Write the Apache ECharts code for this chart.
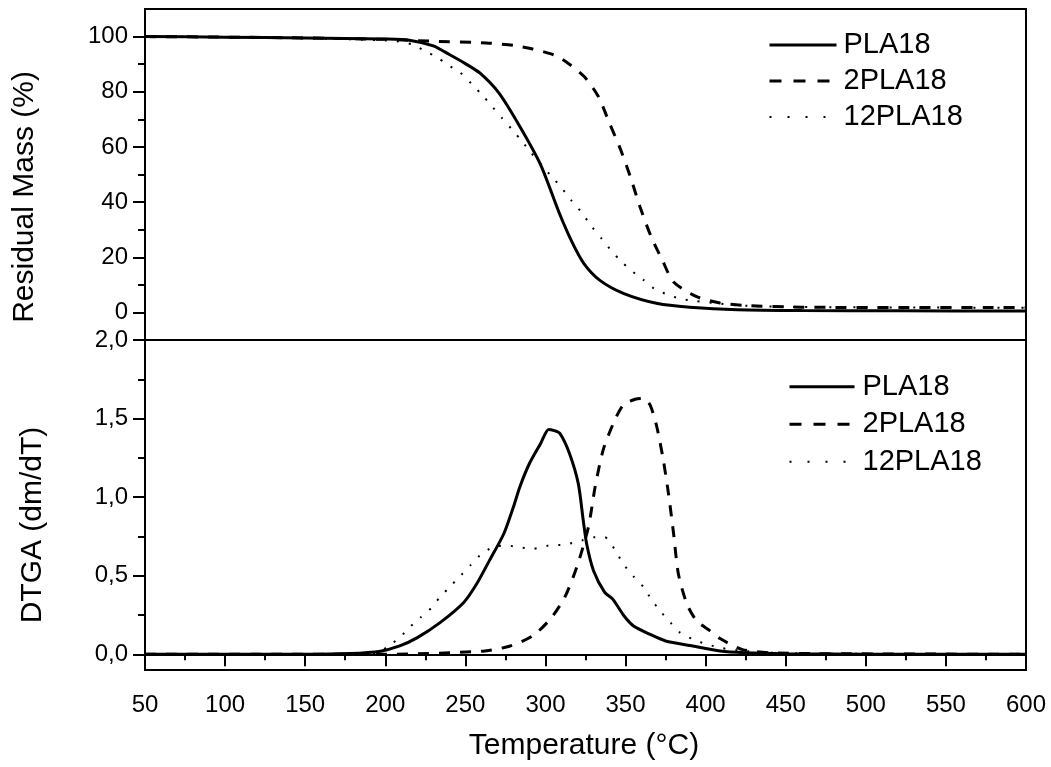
<!DOCTYPE html>
<html>
<head>
<meta charset="utf-8">
<script src="https://cdn.jsdelivr.net/npm/echarts@6/dist/echarts.min.js"></script>
<style>
html,body{margin:0;padding:0;background:#fff;}
#chart{width:1051px;height:767px;}
</style>
</head>
<body>
<div id="chart"></div>
<script>
// ---------- DATA ----------
var seriesNames = ['PLA18', '2PLA18', '12PLA18'];
var xTicks = [50, 100, 150, 200, 250, 300, 350, 400, 450, 500, 550, 600];
var tgaTicks = [0, 20, 40, 60, 80, 100];
var tgaMinorTicks = [10, 30, 50, 70, 90];
var dtgTicks = [0, 0.5, 1.0, 1.5, 2.0];
var dtgMinorTicks = [0.25, 0.75, 1.25, 1.75];

// Residual mass (%) vs temperature (°C)
var tgaPLA18 = [[50,100],[100,99.8],[150,99.5],[200,99.1],[215,98.7],[230,96.6],[240,93.5],[250,90.2],[259,86.8],[271,79.5],[284,67.4],[297,53.5],[309,35.5],[317,25],[324,17.7],[334,11.6],[349,6.8],[370,3.2],[390,1.9],[420,1.0],[460,0.7],[520,0.6],[600,0.5]];
var tga2PLA18 = [[50,100],[100,99.8],[150,99.5],[200,99],[230,98.3],[263,97.7],[280,96.8],[292,95.5],[303,93.8],[311,91.6],[324,85.6],[333,78.3],[340,68.6],[347,58.9],[353,49.2],[359,38.3],[366,27.4],[373,18.9],[380,11],[394,5.8],[409,3.4],[426,2.5],[460,1.9],[520,1.8],[600,1.8]];
var tga12PLA18 = [[50,100],[100,99.8],[150,99.4],[180,99],[200,98.6],[207,98.3],[217,97.1],[225,94.7],[232,92.6],[239,89.8],[247,86.8],[254,82.8],[261,78.5],[267,74.4],[273,70.4],[279,66.4],[285,62.3],[291,57.9],[297,53.8],[303,49.8],[310,45.2],[316,40.7],[323,35.9],[329,31],[335,26.8],[341,22.5],[347,18.7],[354,15],[361,11.9],[368,8.6],[376,6.5],[384,5],[394,4.1],[405,3.4],[422,2.5],[450,2.0],[520,1.8],[600,1.7]];

// DTGA (dm/dT) vs temperature (°C)
var dtgPLA18 = [[50,0],[100,0],[150,0],[178,0.005],[197,0.02],[209,0.053],[220,0.106],[234,0.2],[249,0.33],[257,0.447],[265,0.596],[274,0.767],[280,0.937],[284,1.065],[290,1.214],[297,1.342],[302,1.431],[305,1.425],[309,1.406],[315,1.278],[320.5,1.086],[323.6,0.852],[325.7,0.703],[330,0.532],[337,0.394],[342,0.351],[349,0.245],[355,0.18],[365,0.128],[375,0.085],[392,0.053],[409,0.021],[425,0.01],[450,0.004],[500,0],[600,0]];
var dtg2PLA18 = [[50,0],[150,0],[200,0],[261,0.02],[278,0.053],[292,0.117],[303,0.224],[312,0.362],[319.5,0.553],[326.8,0.809],[331,1.065],[336,1.299],[342.4,1.47],[348.6,1.587],[356,1.623],[361,1.629],[365.3,1.587],[369.5,1.448],[373.6,1.235],[376.8,1.022],[380,0.767],[383,0.511],[388.3,0.32],[394.4,0.213],[402.8,0.149],[409,0.1],[423,0.03],[440,0.01],[470,0.004],[600,0]];
var dtg12PLA18 = [[50,0],[150,0],[195,0.01],[202,0.053],[209,0.106],[215,0.17],[222,0.234],[229,0.298],[234,0.362],[240,0.426],[247,0.5],[253,0.564],[259,0.628],[267,0.681],[276,0.692],[284,0.681],[292,0.671],[302,0.692],[312,0.698],[322.6,0.724],[330,0.745],[337,0.745],[343,0.671],[348.6,0.575],[355,0.495],[361,0.43],[366,0.351],[371.5,0.277],[378,0.202],[384,0.138],[392,0.096],[400.6,0.064],[410,0.04],[420,0.025],[440,0.01],[470,0.004],[600,0]];

// ---------- CHART ----------
var FONT = '"Liberation Sans", Arial, Helvetica, sans-serif';
var styles = [
  {type: 'solid', width: 3},
  {type: [11, 10], width: 3},
  {type: [2, 10], width: 2}
];
var legendStyles = [
  {type: 'solid', width: 3},
  {type: [12, 12], width: 3},
  {type: [2, 16], width: 2}
];
function fmtComma(v) { return v.toFixed(1).replace('.', ','); }

var chart = echarts.init(document.getElementById('chart'), null, {renderer: 'canvas'});

function lineSeries(name, data, xi, yi, k) {
  return {
    name: name, type: 'line', data: data, xAxisIndex: xi, yAxisIndex: yi,
    symbol: 'none', smooth: 0.25,
    lineStyle: {color: '#000', width: styles[k].width, type: styles[k].type},
    itemStyle: {color: '#000'},
    animation: false, silent: true
  };
}
function legendData() {
  return seriesNames.map(function (n, k) {
    return {name: n, lineStyle: {color: '#000', width: legendStyles[k].width, type: legendStyles[k].type}};
  });
}

var axisLineStyle = {show: true, lineStyle: {color: '#000', width: 2}};

var option = {
  backgroundColor: '#fff',
  animation: false,
  grid: [
    {left: 145, right: 25, top: 9, height: 331, show: true, borderColor: '#000', borderWidth: 2, containLabel: false},
    {left: 145, right: 25, top: 340, height: 330, show: true, borderColor: '#000', borderWidth: 2, containLabel: false}
  ],
  xAxis: [
    {type: 'value', gridIndex: 0, min: 50, max: 600, interval: 50, show: false},
    {type: 'value', gridIndex: 1, min: 50, max: 600, interval: 50,
     axisLine: axisLineStyle,
     axisTick: {show: true, length: 12, lineStyle: {color: '#000', width: 2}},
     minorTick: {show: true, splitNumber: 2, length: 6, lineStyle: {color: '#000', width: 2}},
     splitLine: {show: false}, minorSplitLine: {show: false},
     axisLabel: {color: '#000', fontSize: 24, fontFamily: FONT, margin: 23,
                 customValues: xTicks}
    }
  ],
  yAxis: [
    {type: 'value', gridIndex: 0, min: -10, max: 110, interval: 10,
     axisLine: axisLineStyle,
     axisTick: {show: true, length: 12, customValues: tgaTicks, lineStyle: {color: '#000', width: 2}},
     axisLabel: {color: '#000', fontSize: 24, fontFamily: FONT, margin: 17, customValues: tgaTicks},
     splitLine: {show: false}},
    {type: 'value', gridIndex: 0, min: -10, max: 110, interval: 10, position: 'left',
     axisLine: {show: false},
     axisTick: {show: true, length: 7, customValues: tgaMinorTicks, lineStyle: {color: '#000', width: 2}},
     axisLabel: {show: false}, splitLine: {show: false}},
    {type: 'value', gridIndex: 1, min: -0.1, max: 2.0, interval: 0.1,
     axisLine: axisLineStyle,
     axisTick: {show: true, length: 12, customValues: dtgTicks, lineStyle: {color: '#000', width: 2}},
     axisLabel: {color: '#000', fontSize: 24, fontFamily: FONT, margin: 17, customValues: dtgTicks,
                 formatter: fmtComma},
     splitLine: {show: false}},
    {type: 'value', gridIndex: 1, min: -0.1, max: 2.0, interval: 0.1, position: 'left',
     axisLine: {show: false},
     axisTick: {show: true, length: 7, customValues: dtgMinorTicks, lineStyle: {color: '#000', width: 2}},
     axisLabel: {show: false}, splitLine: {show: false}}
  ],
  legend: [
    {orient: 'vertical', left: 763, top: 22, itemWidth: 67, itemHeight: 14, itemGap: 0,
     selectedMode: false, data: legendData(), itemStyle: {opacity: 0},
     textStyle: {color: '#000', fontSize: 29, fontFamily: FONT, lineHeight: 36, padding: [0, 0, 0, 2]}},
    {orient: 'vertical', left: 783, top: 363, itemWidth: 65, itemHeight: 14, itemGap: 0,
     selectedMode: false, data: legendData(), itemStyle: {opacity: 0},
     textStyle: {color: '#000', fontSize: 29, fontFamily: FONT, lineHeight: 37.5, padding: [0, 0, 0, 3]}}
  ],
  graphic: [
    {type: 'text', x: 25, y: 197, rotation: Math.PI / 2,
     style: {text: 'Residual Mass (%)', font: '30px ' + FONT, fill: '#000', align: 'center', verticalAlign: 'middle'}},
    {type: 'text', x: 33, y: 525, rotation: Math.PI / 2,
     style: {text: 'DTGA (dm/dT)', font: '30px ' + FONT, fill: '#000', align: 'center', verticalAlign: 'middle'}},
    {type: 'text', x: 584, y: 746,
     style: {text: 'Temperature (°C)', font: '30px ' + FONT, fill: '#000', align: 'center', verticalAlign: 'middle'}}
  ],
  series: [
    lineSeries('PLA18', tgaPLA18, 0, 0, 0),
    lineSeries('2PLA18', tga2PLA18, 0, 0, 1),
    lineSeries('12PLA18', tga12PLA18, 0, 0, 2),
    lineSeries('PLA18', dtgPLA18, 1, 2, 0),
    lineSeries('2PLA18', dtg2PLA18, 1, 2, 1),
    lineSeries('12PLA18', dtg12PLA18, 1, 2, 2)
  ]
};
chart.setOption(option);
</script>
</body>
</html>
